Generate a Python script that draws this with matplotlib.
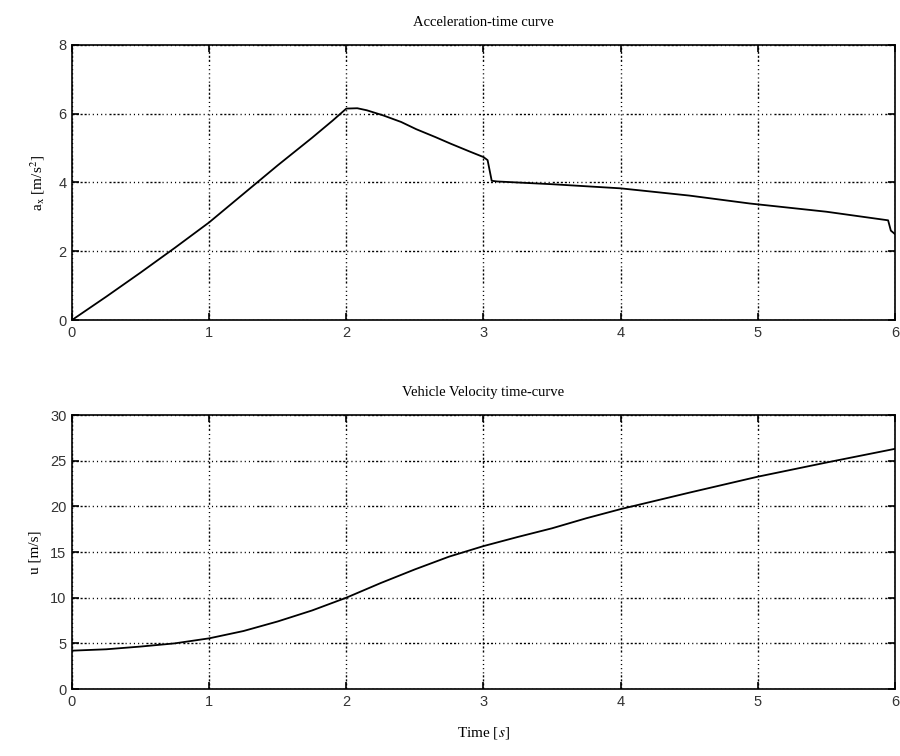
import numpy as np
import matplotlib
matplotlib.use("Agg")
import matplotlib.pyplot as plt

plt.rcParams["mathtext.fontset"] = "stix"

# Acceleration a_x [m/s^2]
t_acc = [0.0, 0.25, 0.5, 0.75, 1.0, 1.25, 1.5, 1.75, 1.9, 2.0, 2.08, 2.15, 2.27,
         2.4, 2.51, 2.65, 2.76, 2.9, 3.0, 3.03, 3.06, 3.1, 3.5, 4.0, 4.5, 4.94,
         5.5, 5.95, 5.97, 6.0]
acc = [0.0, 0.68, 1.38, 2.1, 2.84, 3.67, 4.5, 5.3, 5.8, 6.15, 6.16, 6.1, 5.95,
       5.76, 5.55, 5.32, 5.13, 4.9, 4.74, 4.65, 4.05, 4.03, 3.95, 3.83, 3.62, 3.39,
       3.15, 2.9, 2.6, 2.5]

# Vehicle velocity u [m/s]
t_vel = [0.0, 0.25, 0.5, 0.75, 1.0, 1.25, 1.5, 1.75, 2.0, 2.25, 2.5, 2.75,
         3.0, 3.25, 3.5, 3.75, 4.0, 4.5, 5.0, 5.5, 6.0]
vel = [4.2, 4.35, 4.65, 5.0, 5.55, 6.35, 7.4, 8.6, 10.0, 11.6, 13.1, 14.5,
       15.65, 16.65, 17.6, 18.7, 19.7, 21.5, 23.25, 24.8, 26.3]

x_ticks = [0, 1, 2, 3, 4, 5, 6]
acc_ticks = [0, 2, 4, 6, 8]
vel_ticks = [0, 5, 10, 15, 20, 25, 30]

serif = "Liberation Serif"
grid_style = (0, (1.5, 1.4, 1.5, 1.4, 1.5, 1.4, 1.5, 1.4,
                  0.8, 2.2, 0.8, 2.2, 0.8, 2.2, 0.8, 2.2, 0.8, 2.2))

fig = plt.figure(figsize=(9, 7.56), dpi=100)
ax1 = fig.add_axes([0.08, 0.5767, 0.9144, 0.3638])
ax2 = fig.add_axes([0.08, 0.0886, 0.9144, 0.3624])


def style(ax, yticks):
    ax.set_xlim(0, 6)
    ax.set_ylim(yticks[0], yticks[-1])
    ax.set_xticks(x_ticks)
    ax.set_yticks(yticks)
    ax.tick_params(direction="in", top=True, right=True, length=5, width=1.2,
                   labelsize=10.5, pad=4, labelcolor="#333333")
    for lab in ax.get_xticklabels() + ax.get_yticklabels():
        lab.set_fontfamily("Liberation Sans")
    for s in ax.spines.values():
        s.set_linewidth(1.2)
    ax.grid(True, color="black", linewidth=1.0, linestyle=grid_style)


ax1.plot(t_acc, acc, color="black", linewidth=1.3)
style(ax1, acc_ticks)
ax1.set_title("Acceleration-time curve", fontfamily=serif, fontsize=10.5, pad=14)
ax1.set_ylabel(r"a$_{\mathrm{x}}$ [m/s$^{2}$]", fontfamily=serif, fontsize=11,
               labelpad=8)

ax2.plot(t_vel, vel, color="black", linewidth=1.3)
style(ax2, vel_ticks)
ax2.set_title("Vehicle Velocity time-curve", fontfamily=serif, fontsize=10.5, pad=14)
ax2.set_ylabel("u [m/s]", fontfamily=serif, fontsize=11, labelpad=6)
ax2.set_xlabel(r"Time [$s$]", fontfamily=serif, fontsize=11, labelpad=12)

fig.savefig("out.png", dpi=100)
